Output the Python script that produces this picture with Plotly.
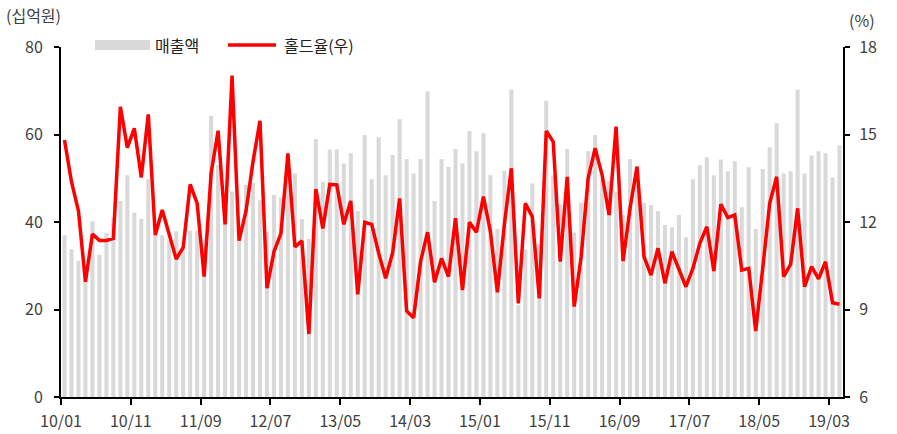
import plotly.graph_objects as go

# Monthly data, 2010/01 - 2019/04
sales = [
    37.0, 33.8, 31.1, 29.0, 40.2, 32.5, 37.5, 41.0, 44.8, 50.7,
    42.1, 40.7, 49.8, 37.0, 37.0, 36.0, 37.9, 34.0, 38.0, 38.0,
    36.0, 64.3, 53.0, 40.0, 47.0, 36.0, 48.5, 49.0, 45.0, 37.8,
    46.2, 45.6, 52.0, 51.1, 40.7, 36.1, 59.0, 49.2, 56.6, 56.6,
    53.4, 55.7, 42.5, 59.9, 49.8, 59.4, 50.7, 55.3, 63.5, 54.4,
    51.1, 54.4, 69.9, 44.8, 54.4, 52.6, 56.7, 53.4, 60.8, 56.2,
    60.3, 50.7, 38.4, 51.7, 70.3, 21.0, 33.8, 48.8, 35.0, 67.7,
    50.7, 44.0, 56.7, 37.6, 44.4, 56.2, 59.9, 50.0, 49.4, 47.0,
    41.6, 54.4, 52.0, 44.4, 43.9, 42.5, 39.3, 38.8, 41.6, 36.5,
    49.8, 53.0, 54.8, 50.7, 54.3, 51.6, 53.9, 43.4, 52.5, 38.4,
    52.1, 57.1, 62.6, 51.1, 51.6, 70.3, 51.1, 55.2, 56.2, 55.7,
    50.2, 57.5,
]

hold = [
    14.81, 13.38, 12.38, 9.95, 11.59, 11.37, 11.37, 11.44, 15.95, 14.55,
    15.21, 13.53, 15.69, 11.55, 12.41, 11.55, 10.73, 11.13, 13.29, 12.64,
    10.13, 13.67, 15.13, 11.92, 17.02, 11.36, 12.38, 14.07, 15.47, 9.73,
    10.98, 11.61, 14.35, 11.15, 11.35, 8.16, 13.13, 11.78, 13.29, 13.27,
    11.92, 12.72, 9.52, 11.99, 11.92, 10.93, 10.07, 10.95, 12.81, 8.95,
    8.72, 10.64, 11.65, 9.93, 10.75, 10.13, 12.13, 9.67, 11.99, 11.65,
    12.87, 11.67, 9.59, 11.92, 13.84, 9.21, 12.64, 12.18, 9.38, 15.12,
    14.75, 10.64, 13.55, 9.10, 10.81, 13.50, 14.53, 13.61, 12.24, 15.27,
    10.66, 12.47, 13.90, 10.81, 10.18, 11.10, 9.90, 10.98, 10.41, 9.78,
    10.41, 11.27, 11.84, 10.32, 12.61, 12.15, 12.24, 10.35, 10.41, 8.26,
    10.41, 12.64, 13.55, 10.13, 10.55, 12.47, 9.78, 10.47, 10.05, 10.64,
    9.23, 9.18,
]

tick_labels = ["10/01", "10/11", "11/09", "12/07", "13/05", "14/03",
               "15/01", "15/11", "16/09", "17/07", "18/05", "19/03"]
tick_index = [0, 10, 20, 30, 40, 50, 60, 70, 80, 90, 100, 110]

x = list(range(len(sales)))
FONT = "Noto Sans CJK KR"
TXT = "#404040"

fig = go.Figure()
fig.add_trace(go.Bar(x=x, y=sales, name="매출액", marker_color="#d9d9d9",
                     marker_line_width=0, yaxis="y", showlegend=False))
fig.add_trace(go.Scatter(x=x, y=hold, name="홀드율(우)", mode="lines",
                         line=dict(color="#ff0000", width=3.5), yaxis="y2",
                         showlegend=False))

W, H = 897, 434
L, R, T, B = 61, 54, 47, 37
pw, ph = W - L - R, H - T - B

def px(xp):
    return (xp - L) / pw

def py(yp):
    return (H - B - yp) / ph

fig.update_layout(
    width=W, height=H,
    margin=dict(l=L, r=R, t=T, b=B, autoexpand=False),
    paper_bgcolor="white", plot_bgcolor="white",
    font=dict(family=FONT, size=16, color=TXT),
    bargap=0.42,
    xaxis=dict(range=[-0.5, len(sales) - 0.5], automargin=False,
               tickvals=[i - 0.5 for i in tick_index], ticktext=tick_labels,
               showline=True, linecolor="black", linewidth=2,
               ticks="outside", ticklen=6, tickwidth=2, tickcolor="black",
               showgrid=False, zeroline=False, ticklabelstandoff=3,
               tickfont=dict(size=16, color=TXT)),
    yaxis=dict(range=[0, 80], dtick=20, showline=True, linecolor="black",
               linewidth=2, ticks="outside", ticklen=5, tickwidth=2,
               tickcolor="black", showgrid=False, zeroline=False,
               automargin=False,
               ticklabelstandoff=8, tickfont=dict(size=16, color=TXT)),
    yaxis2=dict(range=[6, 18], dtick=3, overlaying="y", side="right",
                showline=True, linecolor="black", linewidth=2,
                ticks="outside", ticklen=5, tickwidth=2, tickcolor="black",
                showgrid=False, zeroline=False, ticklabelstandoff=6,
                automargin=False,
                tickfont=dict(size=16, color=TXT)),
    shapes=[
        dict(type="rect", xref="paper", yref="paper",
             x0=px(95), x1=px(150), y0=py(50), y1=py(40),
             fillcolor="#d9d9d9", line=dict(width=0)),
        dict(type="line", xref="paper", yref="paper",
             x0=px(228), x1=px(276), y0=py(45), y1=py(45),
             line=dict(color="#ff0000", width=3.5)),
    ],
    annotations=[
        dict(text="매출액", xref="paper", yref="paper", x=px(153), y=py(45),
             xanchor="left", yanchor="middle", showarrow=False,
             font=dict(size=16, color="#222")),
        dict(text="홀드율(우)", xref="paper", yref="paper", x=px(282), y=py(45),
             xanchor="left", yanchor="middle", showarrow=False,
             font=dict(size=16, color="#222")),
        dict(text="(십억원)", xref="paper", yref="paper", x=px(4), y=py(15),
             xanchor="left", yanchor="middle", showarrow=False,
             font=dict(size=16, color=TXT)),
        dict(text="(%)", xref="paper", yref="paper", x=px(877), y=py(20),
             xanchor="right", yanchor="middle", showarrow=False,
             font=dict(size=16, color=TXT)),
    ],
)

fig.write_html(
    "out.html",
    config={"displayModeBar": False},
    post_script="document.body.style.margin='0';document.body.style.overflow='hidden';",
)
